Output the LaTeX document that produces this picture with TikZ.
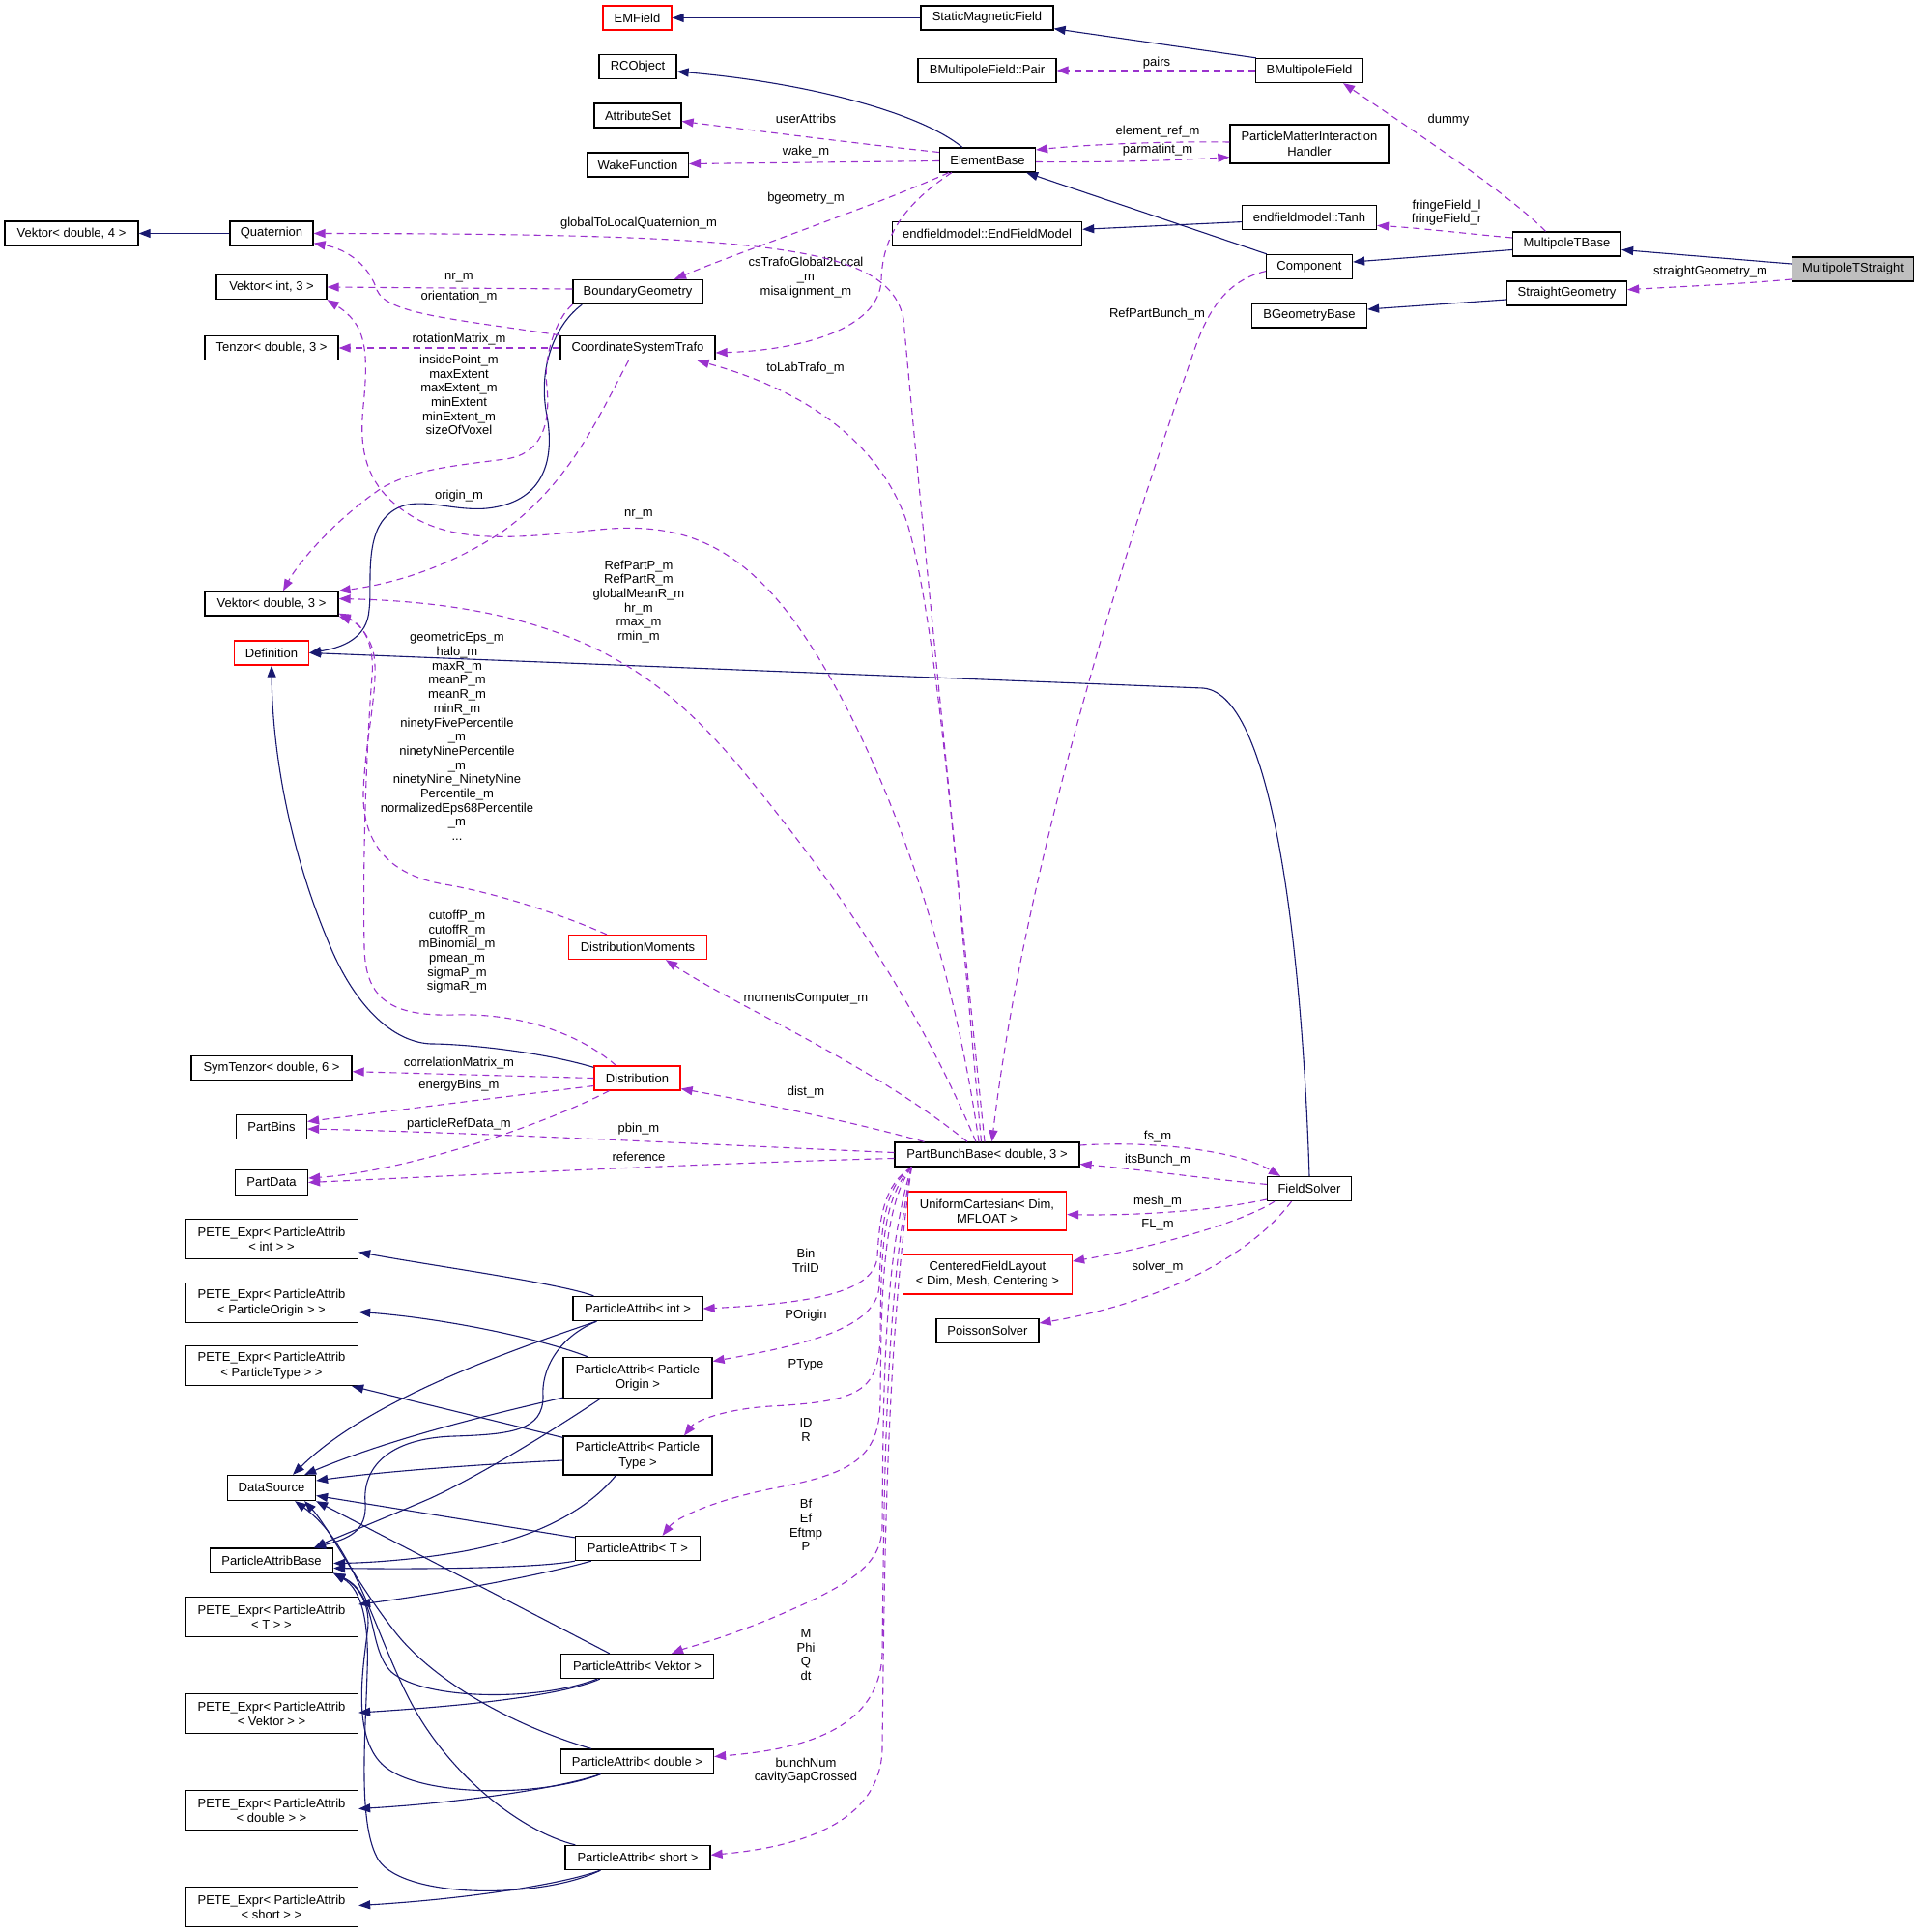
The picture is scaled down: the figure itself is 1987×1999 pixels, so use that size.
\documentclass[tikz,border=0pt]{standalone}
\usepackage{fontspec}
\setmainfont{Liberation Sans}
\usetikzlibrary{arrows.meta,calc}
\definecolor{navy}{HTML}{191970}
\definecolor{purp}{HTML}{9A32CD}
\definecolor{gfill}{HTML}{BFBFBF}
\newcommand{\boxfont}{\fontsize{13pt}{15.3pt}\selectfont}
\newcommand{\labfont}{\fontsize{13pt}{14.7pt}\selectfont}
\begin{document}
\begin{tikzpicture}[x=1pt,y=-1pt,
 cls/.style={draw=black,line width=1.3pt,fill=white,font=\boxfont,inner sep=0pt,align=center,minimum height=25pt},
 rcls/.style={cls,draw=red},
 pete/.style={cls,minimum width=179pt,minimum height=41pt},
 inh/.style={draw=navy,line width=1.1pt,-{Triangle[length=12pt,width=9pt]}},
 use/.style={draw=purp,line width=1.1pt,dash pattern=on 7pt off 5pt,-{Triangle[length=12pt,width=9pt]}},
 lab/.style={font=\labfont,align=center,inner sep=0pt}]
\fill[white] (0,0) rectangle (1987,1999);
\useasboundingbox (0,0) rectangle (1987,1999);

% ---------- nodes ----------
\node[rcls,minimum width=71pt] (emf) at (659.5,18.5) {EMField};
\node[cls,minimum width=137pt] (smf) at (1021.5,18.5) {StaticMagneticField};
\node[cls,minimum width=80pt] (rco) at (660,69) {RCObject};
\node[cls,minimum width=143pt] (bmpair) at (1021.5,73) {BMultipoleField::Pair};
\node[cls,minimum width=111pt] (bmf) at (1355,73) {BMultipoleField};
\node[cls,minimum width=90pt] (attr) at (660,119.5) {AttributeSet};
\node[cls,minimum width=105pt] (wake) at (660,170.5) {WakeFunction};
\node[cls,minimum width=99pt] (eb) at (1022,165.5) {ElementBase};
\node[cls,minimum width=164pt,minimum height=40pt] (pmih) at (1355,149) {ParticleMatterInteraction\\Handler};
\node[cls,minimum width=138pt] (vd4) at (74,241.5) {Vektor< double, 4 >};
\node[cls,minimum width=86pt] (quat) at (281,241.5) {Quaternion};
\node[cls,minimum width=196pt] (efm) at (1021.6,242.3) {endfieldmodel::EndFieldModel};
\node[cls,minimum width=139pt] (tanh) at (1355,225) {endfieldmodel::Tanh};
\node[cls,minimum width=112pt] (mtb) at (1621.5,252.5) {MultipoleTBase};
\node[cls,fill=gfill,minimum width=126pt] (mts) at (1917.5,278.5) {MultipoleTStraight};
\node[cls,minimum width=89pt] (comp) at (1355,276) {Component};
\node[cls,minimum width=124pt] (sg) at (1621.5,303.5) {StraightGeometry};
\node[cls,minimum width=119pt] (bgb) at (1355,326.5) {BGeometryBase};
\node[cls,minimum width=114pt] (vi3) at (281,297) {Vektor< int, 3 >};
\node[cls,minimum width=134pt] (bg) at (660,302) {BoundaryGeometry};
\node[cls,minimum width=138pt] (tz) at (281,360) {Tenzor< double, 3 >};
\node[cls,minimum width=160pt] (cst) at (660,360) {CoordinateSystemTrafo};
\node[cls,minimum width=138pt] (vd3) at (281,624.5) {Vektor< double, 3 >};
\node[rcls,minimum width=77pt] (defn) at (281,675.5) {Definition};
\node[rcls,minimum width=143pt] (dm) at (660,980) {DistributionMoments};
\node[cls,minimum width=166pt] (st) at (281,1105) {SymTenzor< double, 6 >};
\node[rcls,minimum width=89pt] (dist) at (659.5,1115.5) {Distribution};
\node[cls,minimum width=73pt] (pbins) at (281,1166) {PartBins};
\node[cls,minimum width=75pt,minimum height=26pt] (pdata) at (281,1223.5) {PartData};
\node[cls,minimum width=191pt] (pbb) at (1021.5,1194.5) {PartBunchBase< double, 3 >};
\node[rcls,minimum width=164pt,minimum height=40pt] (uc) at (1021.5,1253) {UniformCartesian< Dim,\\MFLOAT >};
\node[rcls,minimum width=175pt,minimum height=41pt] (cfl) at (1022,1318.5) {CenteredFieldLayout\\< Dim, Mesh, Centering >};
\node[cls,minimum width=106pt] (ps) at (1022,1377) {PoissonSolver};
\node[cls,minimum width=87pt] (fsol) at (1355,1230) {FieldSolver};

\node[pete] (pint) at (281,1282) {PETE\_Expr< ParticleAttrib\\< int > >};
\node[pete] (porig) at (281,1348) {PETE\_Expr< ParticleAttrib\\< ParticleOrigin > >};
\node[pete] (ptype) at (281,1413) {PETE\_Expr< ParticleAttrib\\< ParticleType > >};
\node[pete] (pt) at (281,1673) {PETE\_Expr< ParticleAttrib\\< T > >};
\node[pete] (pvek) at (281,1773) {PETE\_Expr< ParticleAttrib\\< Vektor > >};
\node[pete] (pdbl) at (281,1873) {PETE\_Expr< ParticleAttrib\\< double > >};
\node[pete] (pshort) at (281,1973) {PETE\_Expr< ParticleAttrib\\< short > >};

\node[cls,minimum width=134pt] (aint) at (660,1354) {ParticleAttrib< int >};
\node[cls,minimum width=154pt,minimum height=42pt] (aorig) at (660,1425.5) {ParticleAttrib< Particle\\Origin >};
\node[cls,minimum width=154pt,minimum height=40pt] (atype) at (660,1506) {ParticleAttrib< Particle\\Type >};
\node[cls,minimum width=91pt,minimum height=26pt] (ds) at (281,1539.5) {DataSource};
\node[cls,minimum width=127pt] (pab) at (281,1614.5) {ParticleAttribBase};
\node[cls,minimum width=129pt] (at) at (660,1602) {ParticleAttrib< T >};
\node[cls,minimum width=158pt] (avek) at (659.5,1724) {ParticleAttrib< Vektor >};
\node[cls,minimum width=158pt] (adbl) at (659.5,1822.5) {ParticleAttrib< double >};
\node[cls,minimum width=150pt] (ashort) at (660,1922) {ParticleAttrib< short >};

% ---------- inheritance (solid) ----------
\draw[inh] (smf.west) -- (emf.east);
\draw[inh] ([xshift=1pt]bmf.north west) -- ([yshift=2pt]smf.south east);
\draw[inh] ([xshift=24pt]eb.north west) .. controls (950,115) and (830,85) .. ([yshift=-5pt]rco.east);
\draw[inh] ([xshift=1pt]comp.north west) -- ([xshift=-10pt]eb.south east);
\draw[inh] ([yshift=-4.6pt]tanh.west) -- ([yshift=5pt]efm.east);
\draw[inh] ([yshift=-6pt]mtb.west) -- ([yshift=5pt]comp.east);
\draw[inh] ([yshift=5.5pt]mts.west) -- ([yshift=-6pt]mtb.east);
\draw[inh] ([yshift=-6.5pt]sg.west) -- ([yshift=6.5pt]bgb.east);
\draw[inh] (quat.west) -- (vd4.east);
\draw[inh] ([xshift=10pt]bg.south west) .. controls (575,335) and (556,380) .. (566,430) .. controls (575,480) and (560,520) .. (504,526) .. controls (460,530) and (420,505) .. (395,540) .. controls (378,565) and (385,610) .. (382,631) .. controls (380,660) and (355,670) .. (defn.east);
\draw[inh] (fsol.north) .. controls (1348,1000) and (1320,718) .. (1245,712) -- (defn.east);
\draw[inh] ([yshift=-2pt]dist.north west) .. controls (560,1088) and (480,1080) .. (446,1080) .. controls (400,1078) and (362,1030) .. (340,975) .. controls (300,880) and (282,780) .. (defn.south);

\draw[inh] ([xshift=22pt]aint.north west) .. controls (580,1328) and (450,1310) .. ([yshift=-13.6pt]pint.east);
\draw[inh] ([xshift=25pt]aint.south west) .. controls (520,1400) and (380,1450) .. ([xshift=22pt]ds.north);
\draw[inh] ([xshift=25pt]aint.south west) .. controls (575,1385) and (560,1420) .. (562,1445) .. controls (562,1480) and (530,1484) .. (470,1486) .. controls (400,1488) and (375,1520) .. (378,1555) .. controls (380,1585) and (360,1592) .. ([xshift=44pt]pab.north);

\draw[inh] ([xshift=26pt]aorig.north west) .. controls (560,1385) and (460,1364) .. ([yshift=-9.4pt]porig.east);
\draw[inh] ([yshift=1pt]aorig.south west) .. controls (500,1465) and (400,1490) .. ([xshift=-12pt]ds.north east);
\draw[inh] ([xshift=39pt]aorig.south west) .. controls (580,1475) and (500,1525) .. (446,1550) .. controls (400,1570) and (350,1590) .. ([xshift=44pt]pab.north);

\draw[inh] ([yshift=-2pt]atype.north west) -- ([xshift=-7pt]ptype.south east);
\draw[inh] ([yshift=-5pt]atype.west) .. controls (500,1515) and (400,1522) .. ([yshift=7.5pt]ds.east);
\draw[inh] ([xshift=55pt]atype.south west) .. controls (610,1560) and (560,1590) .. (480,1605) .. controls (430,1614) and (380,1617) .. ([yshift=-3pt]pab.east);

\draw[inh] ([yshift=-2pt]at.north west) -- ([yshift=-8pt]ds.east);
\draw[inh] (at.south west) .. controls (560,1622) and (450,1624) .. ([yshift=-8pt]pab.east);
\draw[inh] ([xshift=17pt]at.south west) .. controls (560,1630) and (450,1650) .. ([yshift=13pt]pt.east);

\draw[inh] ([xshift=51pt]avek.north west) -- (ds.south east);
\draw[inh] ([xshift=38pt]avek.south west) .. controls (560,1760) and (440,1760) .. (405,1730) .. controls (380,1705) and (392,1650) .. (pab.south east);
\draw[inh] ([xshift=41pt]avek.south west) .. controls (580,1755) and (480,1765) .. ([yshift=1pt]pvek.east);

\draw[inh] ([xshift=32pt]adbl.north west) .. controls (530,1785) and (450,1740) .. (410,1690) .. controls (370,1640) and (340,1580) .. ([xshift=-12pt]ds.south east);
\draw[inh] ([xshift=41.6pt]adbl.south west) .. controls (560,1860) and (430,1860) .. (395,1825) .. controls (365,1795) and (375,1730) .. (380,1690) .. controls (385,1660) and (370,1640) .. (pab.south east);
\draw[inh] ([xshift=41.6pt]adbl.south west) .. controls (580,1850) and (480,1865) .. ([yshift=1.5pt]pdbl.east);

\draw[inh] ([xshift=11pt]ashort.north west) .. controls (540,1895) and (470,1840) .. (430,1770) .. controls (390,1700) and (370,1600) .. ([xshift=-22pt]ds.south east);
\draw[inh] ([xshift=37pt]ashort.south west) .. controls (560,1965) and (420,1965) .. (392,1925) .. controls (370,1890) and (378,1800) .. (380,1730) .. controls (382,1680) and (375,1645) .. (pab.south east);
\draw[inh] ([xshift=37pt]ashort.south west) .. controls (580,1950) and (480,1965) .. ([yshift=1.5pt]pshort.east);

% ---------- usage (dashed) ----------
\draw[use] (bmf.west) -- (bmpair.east);
\node[lab] (lpairs) at (1197,65) {pairs};
\draw[use] ([xshift=-22pt]mtb.north) .. controls (1560,200) and (1470,140) .. ([xshift=35pt]bmf.south);
\node[lab] (ldummy) at (1499,124.4) {dummy};
\draw[use] ([yshift=2pt]pmih.west) .. controls (1200,146) and (1120,150) .. ([yshift=10.5pt]eb.east);
\node[lab] (lelref) at (1198,136.5) {element\_ref\_m};
\draw[use] ([yshift=-2pt]eb.east) .. controls (1120,168) and (1200,167) .. ([yshift=-13.6pt]pmih.west);
\node[lab] (lparm) at (1198,155.6) {parmatint\_m};
\draw[use] ([yshift=8pt]eb.west) .. controls (900,150) and (780,135) .. ([yshift=-6pt]attr.east);
\node[lab] (luser) at (834,123) {userAttribs};
\draw[use] ([yshift=-1pt]eb.west) -- ([yshift=1pt]wake.east);
\node[lab] (lwake) at (834,157.5) {wake\_m};
\draw[use] ([xshift=10pt]eb.south west) .. controls (900,215) and (780,255) .. ([xshift=38pt]bg.north);
\node[lab] (lbgeo) at (834,204.7) {bgeometry\_m};
\draw[use] ([xshift=13pt]eb.south west) .. controls (930,215) and (913,250) .. (912,290) .. controls (910,340) and (830,362) .. ([yshift=-5pt]cst.east);
\node[lab] (lcstr) at (834,287) {csTrafoGlobal2Local\\\_m\\misalignment\_m};
\draw[use] ([yshift=6.5pt]mtb.west) .. controls (1520,242) and (1470,236) .. ([yshift=-8.4pt]tanh.east);
\node[lab] (lfringe) at (1497,220) {fringeField\_l\\fringeField\_r};
\draw[use] ([yshift=-10.5pt]mts.west) .. controls (1800,294) and (1730,297) .. ([yshift=3.8pt]sg.east);
\node[lab] (lstraight) at (1770,281.3) {straightGeometry\_m};
\draw[use] ([yshift=-4.6pt]comp.west) .. controls (1270,290) and (1250,320) .. (1235,365) .. controls (1160,580) and (1060,900) .. ([xshift=5pt]pbb.north);
\node[lab] (lrefpb) at (1197.5,324.6) {RefPartBunch\_m};

\draw[use] ([xshift=-2.5pt]pbb.north) .. controls (990,900) and (950,500) .. (935,330) .. controls (920,255) and (800,242) .. (quat.east);
\node[lab] (lg2l) at (661,231.5) {globalToLocalQuaternion\_m};
\draw[use] (cst.north west) .. controls (470,330) and (400,325) .. (390,300) .. controls (382,275) and (360,258) .. ([yshift=3pt]quat.south east);
\node[lab] (lorient) at (475,307.4) {orientation\_m};
\draw[use] ([yshift=3pt]bg.west) -- (vi3.east);
\node[lab] (lnr1) at (475,287.6) {nr\_m};
\draw[use] (cst.west) -- (tz.east);
\node[lab] (lrot) at (475,351.4) {rotationMatrix\_m};
\draw[use] (bg.south west) .. controls (575,330) and (562,370) .. (566,400) .. controls (570,440) and (560,470) .. (523,475) .. controls (470,482) and (430,485) .. (395,505) .. controls (350,535) and (310,580) .. ([xshift=12pt]vd3.north);
\node[lab] (linside) at (475,408.5) {insidePoint\_m\\maxExtent\\maxExtent\_m\\minExtent\\minExtent\_m\\sizeOfVoxel};
\draw[use] ([xshift=-9.5pt]cst.south) .. controls (620,430) and (590,500) .. (520,550) .. controls (460,590) and (400,605) .. (vd3.north east);
\node[lab] (lorigin) at (475,513.4) {origin\_m};
\draw[use] ([xshift=-6pt]pbb.north) .. controls (990,900) and (970,650) .. (940,545) .. controls (910,450) and (820,400) .. ([xshift=-19pt]cst.south east);
\node[lab] (ltolab) at (833.5,381) {toLabTrafo\_m};
\draw[use] ([xshift=-8.5pt]pbb.north) .. controls (980,950) and (900,750) .. (820,640) .. controls (760,560) and (700,540) .. (620,548) .. controls (540,556) and (470,565) .. (420,530) .. controls (375,500) and (372,460) .. (376,420) .. controls (382,360) and (378,335) .. (vi3.south east);
\node[lab] (lnr2) at (661,532.6) {nr\_m};
\draw[use] ([xshift=-11.5pt]pbb.north) .. controls (950,1040) and (870,920) .. (765,793) .. controls (690,705) and (600,625) .. ([yshift=5pt]vd3.east);
\node[lab] (lrefp) at (661,622.5) {RefPartP\_m\\RefPartR\_m\\globalMeanR\_m\\hr\_m\\rmax\_m\\rmin\_m};
\draw[use] ([xshift=40pt]dm.north west) .. controls (590,950) and (520,925) .. (460,915) .. controls (400,905) and (375,870) .. (376,820) .. controls (378,760) and (395,700) .. (385,670) .. controls (378,650) and (365,642) .. (vd3.south east);
\node[lab] (lgeom) at (473,762) {geometricEps\_m\\halo\_m\\maxR\_m\\meanP\_m\\meanR\_m\\minR\_m\\ninetyFivePercentile\\\_m\\ninetyNinePercentile\\\_m\\ninetyNine\_NinetyNine\\Percentile\_m\\normalizedEps68Percentile\\\_m\\...};
\draw[use] ([xshift=-22pt]dist.north) .. controls (600,1070) and (540,1048) .. (470,1050) .. controls (400,1052) and (378,1030) .. (377,980) .. controls (375,880) and (380,760) .. (385,700) .. controls (388,660) and (372,645) .. ([yshift=3pt]vd3.south east);
\node[lab] (lcutoff) at (473,984.8) {cutoffP\_m\\cutoffR\_m\\mBinomial\_m\\pmean\_m\\sigmaP\_m\\sigmaR\_m};

\draw[use] (dist.west) -- ([yshift=-3.7pt]st.east);
\node[lab] (lcorr) at (475,1099.8) {correlationMatrix\_m};
\draw[use] ([yshift=-8pt]dist.west) .. controls (520,1135) and (400,1150) .. ([yshift=5.6pt]pbins.east);
\node[lab] (lenergy) at (475,1123.4) {energyBins\_m};
\draw[use] ([xshift=16pt]dist.south west) .. controls (560,1165) and (420,1212) .. ([yshift=4.5pt]pdata.east);
\node[lab] (lprd) at (475,1163.5) {particleRefData\_m};
\draw[use] ([yshift=2pt]pbb.west) .. controls (750,1185) and (500,1172) .. ([yshift=-2pt]pbins.east);
\node[lab] (lpbin) at (661,1168.6) {pbin\_m};
\draw[use] ([yshift=-4pt]pbb.west) .. controls (750,1203) and (500,1215) .. (pdata.east);
\node[lab] (lref) at (661,1196.7) {reference};
\draw[use] ([xshift=-65pt]pbb.north) .. controls (880,1160) and (780,1140) .. ([yshift=-11pt]dist.east);
\node[lab] (ldist) at (834,1130) {dist\_m};
\draw[use] ([xshift=-20.5pt]pbb.north) .. controls (900,1100) and (760,1040) .. ([xshift=29pt]dm.south);
\node[lab] (lmom) at (834,1033.6) {momentsComputer\_m};

\draw[use] ([yshift=9.5pt]pbb.east) .. controls (1190,1180) and (1280,1190) .. ([xshift=-30pt]fsol.north);
\node[lab] (lfs) at (1198,1175.7) {fs\_m};
\draw[use] ([yshift=4.6pt]fsol.west) .. controls (1250,1220) and (1180,1210) .. ([yshift=-10pt]pbb.east);
\node[lab] (lits) at (1198,1200.5) {itsBunch\_m};
\draw[use] ([yshift=-11pt]fsol.west) .. controls (1260,1252) and (1180,1258) .. ([yshift=-3.6pt]uc.east);
\node[lab] (lmesh) at (1198,1243.3) {mesh\_m};
\draw[use] ([xshift=-36pt]fsol.south) .. controls (1280,1268) and (1180,1293) .. ([yshift=13.5pt]cfl.east);
\node[lab] (lfl) at (1198,1267.5) {FL\_m};
\draw[use] ([xshift=-18.5pt]fsol.south) .. controls (1290,1305) and (1190,1350) .. ([yshift=8pt]ps.east);
\node[lab] (lsolver) at (1198,1311.5) {solver\_m};

\draw[use] ([xshift=18pt]pbb.south west) .. controls (915,1225) and (910,1260) .. (908,1300) .. controls (905,1335) and (850,1348) .. (aint.east);
\node[lab] (lbin) at (834,1304.4) {Bin\\TriID};
\draw[use] ([xshift=18pt]pbb.south west) .. controls (912,1230) and (912,1280) .. (910,1330) .. controls (908,1375) and (830,1392) .. ([yshift=17pt]aorig.east);
\node[lab] (lporig) at (834,1361) {POrigin};
\draw[use] ([xshift=18pt]pbb.south west) .. controls (912,1240) and (912,1300) .. (911,1380) .. controls (910,1440) and (890,1450) .. (797,1455) .. controls (750,1458) and (720,1470) .. ([xshift=48pt]atype.north);
\node[lab] (lptype) at (834,1412) {PType};
\draw[use] ([xshift=18pt]pbb.south west) .. controls (912,1250) and (912,1350) .. (911,1450) .. controls (910,1510) and (880,1525) .. (800,1540) .. controls (740,1552) and (700,1570) .. ([xshift=25.6pt]at.north);
\node[lab] (lidr) at (834,1479.8) {ID\\R};
\draw[use] ([xshift=18pt]pbb.south west) .. controls (914,1300) and (914,1450) .. (913,1580) .. controls (912,1620) and (880,1640) .. (797,1675) .. controls (740,1698) and (710,1705) .. ([xshift=35.5pt]avek.north);
\node[lab] (lbf) at (834,1578) {Bf\\Ef\\Eftmp\\P};
\draw[use] ([xshift=18pt]pbb.south west) .. controls (915,1350) and (915,1550) .. (913,1710) .. controls (911,1790) and (830,1810) .. ([yshift=5pt]adbl.east);
\node[lab] (lmphi) at (834,1712) {M\\Phi\\Q\\dt};
\draw[use] ([xshift=18pt]pbb.south west) .. controls (916,1400) and (915,1650) .. (913,1810) .. controls (911,1880) and (840,1910) .. ([yshift=2.7pt]ashort.east);
\node[lab] (lbunch) at (834,1832) {bunchNum\\cavityGapCrossed};
\end{tikzpicture}
\end{document}
